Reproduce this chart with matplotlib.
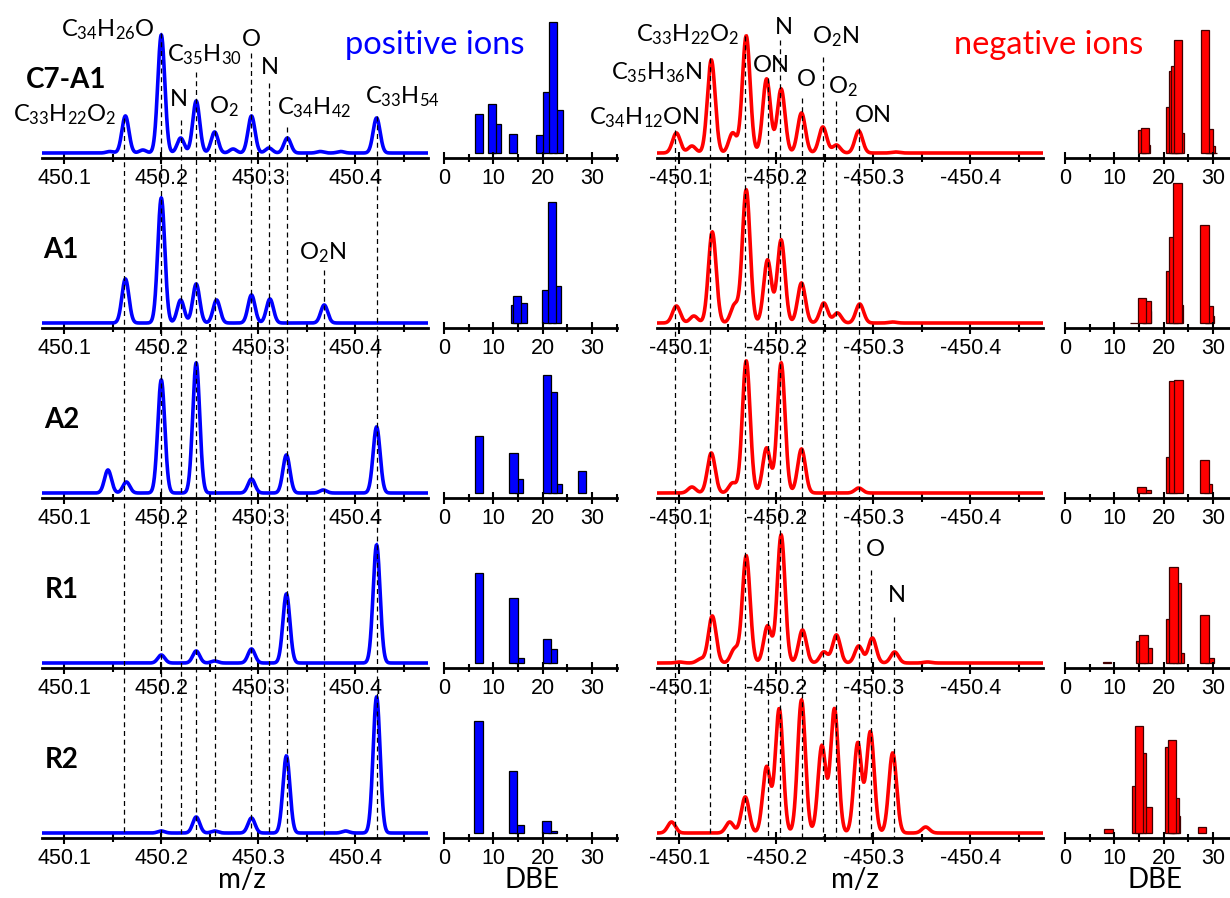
import matplotlib
matplotlib.use('Agg')
import matplotlib.pyplot as plt
import numpy as np
from matplotlib.lines import Line2D
from matplotlib.ticker import MultipleLocator, FuncFormatter
from matplotlib.transforms import blended_transform_factory

# Colours and fonts
BLUE = '#0000ff'
RED = '#ff0000'
LABEL_FONT = ['Lato', 'DejaVu Sans']
TICK_FONT = ['Liberation Sans', 'DejaVu Sans']

samples = ['C7-A1', 'A1', 'A2', 'R1', 'R2']

# ---- positive-ion peak lists (m/z, relative height) ----
pos_c7a1_mz = [450.147, 450.163, 450.181, 450.200, 450.220, 450.236, 450.255, 450.274,
               450.293, 450.311, 450.330, 450.364, 450.385, 450.422]
pos_c7a1_int = [1.5, 37, 3, 118, 15, 52, 21, 4, 37, 5, 15, 1.5, 1.5, 35]
pos_a1_mz = [450.163, 450.200, 450.220, 450.236, 450.257, 450.293, 450.312, 450.368]
pos_a1_int = [44, 125, 23, 39, 23, 28, 24, 18]
pos_a2_mz = [450.145, 450.164, 450.200, 450.236, 450.293, 450.329, 450.367, 450.422]
pos_a2_int = [23, 11, 113, 130, 14, 38, 3, 66]
pos_r1_mz = [450.200, 450.236, 450.255, 450.293, 450.329, 450.422]
pos_r1_int = [8, 12, 2, 14, 69, 118]
pos_r2_mz = [450.200, 450.236, 450.255, 450.293, 450.329, 450.390, 450.422]
pos_r2_int = [2, 16, 2, 15, 77, 2, 136]

# ---- negative-ion peak lists (m/z shown as -m/z on the axis) ----
neg_c7a1_mz = [450.097, 450.113, 450.133, 450.155, 450.169, 450.190, 450.205, 450.226,
               450.248, 450.262, 450.285, 450.323]
neg_c7a1_int = [20, 7, 93, 20, 117, 74, 64, 40, 26, 8, 22, 1]
neg_a1_mz = [450.097, 450.115, 450.134, 450.157, 450.169, 450.191, 450.205, 450.226,
             450.249, 450.263, 450.286, 450.320]
neg_a1_int = [17, 7, 91, 18, 133, 63, 83, 40, 20, 10, 19, 1]
neg_a2_mz = [450.113, 450.133, 450.155, 450.169, 450.190, 450.205, 450.226, 450.285]
neg_a2_int = [6, 40, 10, 132, 45, 130, 44, 5]
neg_r1_mz = [450.100, 450.122, 450.134, 450.157, 450.169, 450.191, 450.205, 450.227,
             450.249, 450.262, 450.285, 450.299, 450.322, 450.356]
neg_r1_int = [1, 4, 47, 14, 107, 37, 128, 33, 11, 28, 17, 25, 11, 1]
neg_r2_mz = [450.092, 450.152, 450.168, 450.190, 450.203, 450.226, 450.247, 450.260,
             450.284, 450.297, 450.320, 450.354]
neg_r2_int = [11, 11, 36, 66, 124, 133, 87, 124, 90, 101, 80, 6]

# ---- DBE distributions (DBE, relative abundance) ----
pos_c7a1_dbe = [7.1, 9.7, 10.8, 14.0, 19.6, 21.0, 22.1, 23.2]
pos_c7a1_ab = [39, 49, 29, 19, 18, 61, 131, 43]
pos_a1_dbe = [14.35, 14.85, 16.0, 20.8, 21.95, 22.9]
pos_a1_ab = [18, 27, 20, 33, 121, 37]
pos_a2_dbe = [7.05, 14.1, 15.25, 20.95, 22.05, 23.05, 27.95]
pos_a2_ab = [57, 40, 14, 118, 101, 9, 22]
pos_r1_dbe = [7.1, 14.1, 15.3, 20.9, 22.0]
pos_r1_ab = [90, 65, 5, 24, 14]
pos_r2_dbe = [7.0, 14.0, 15.3, 20.8, 22.0]
pos_r2_ab = [112, 62, 8, 12, 2]

neg_c7a1_dbe = [15.65, 16.25, 16.4, 21.3, 21.9, 22.3, 22.9, 23.25, 28.35, 29.25, 29.5, 30.0]
neg_c7a1_ab = [23, 25, 8, 46, 82, 87, 113, 20, 123, 24, 7, 0.5]
neg_a1_dbe = [14.0, 15.65, 16.7, 16.5, 21.35, 22.05, 22.8, 23.05, 28.3, 29.25, 29.3]
neg_a1_ab = [0.5, 25, 22, 12, 52, 86, 140, 18, 98, 17, 7]
neg_a2_dbe = [15.5, 16.5, 21.3, 21.9, 23.0, 28.3, 29.0]
neg_a2_ab = [6, 3, 36, 112, 113, 33, 9]
neg_r1_dbe = [8.5, 15.3, 15.9, 16.8, 21.3, 22.0, 22.7, 23.3, 28.3, 29.3]
neg_r1_ab = [1.5, 22, 28, 15, 44, 96, 80, 10, 48, 5]
neg_r2_dbe = [8.8, 14.35, 15.0, 15.65, 16.8, 21.2, 21.7, 22.25, 22.55, 27.8]
neg_r2_ab = [4, 47, 107, 80, 26, 86, 93, 35, 17, 6]

# ---- assignments marked with dashed lines ----
pos_formula = ['C$_{33}$H$_{22}$O$_2$', 'C$_{34}$H$_{26}$O', 'N', 'C$_{35}$H$_{30}$', 'O$_2$',
               'O', 'N', 'C$_{34}$H$_{42}$', 'C$_{33}$H$_{54}$', 'O$_2$N']
pos_formula_mz = [450.162, 450.200, 450.220, 450.236, 450.255, 450.293, 450.311,
                  450.330, 450.422, 450.368]
neg_formula = ['C$_{34}$H$_{12}$ON', 'C$_{35}$H$_{36}$N', 'C$_{33}$H$_{22}$O$_2$', 'ON', 'N',
               'O', 'O$_2$N', 'O$_2$', 'ON', 'O', 'N']
neg_formula_mz = [450.096, 450.132, 450.168, 450.191, 450.204, 450.227, 450.248,
                  450.262, 450.285, 450.298, 450.321]

# ---- layout (pixels of the 1230x898 canvas) ----
W, H = 1230, 898
XLIM = (450.077, 450.475)
ROW_BASE = [158, 328, 498, 668, 838]
AX_H = 150
COLS = [(42, 386), (444, 172.5), (657, 386), (1065, 172.5)]
# label centre (px) and top of dashed line (px)
pos_label_pos = [(64.5, 115, 118), (107.5, 30, 33), (178, 100, 120), (204, 55, 72),
                 (223.5, 107, 122), (251, 40, 53), (268.5, 68, 83), (314, 108, 127),
                 (402, 97, 116), (322.5, 253, 270)]
neg_label_pos = [(644, 118, 130), (656.5, 73, 58), (687.5, 35, 36), (770.5, 65, 78),
                 (782.5, 28, 40), (806, 80, 98), (836, 37, 57), (842.5, 87, 101),
                 (872.5, 115, 128), (875, 550, 570), (896, 595, 617)]


def fx(px):
    return px / W


def fy(py):
    return 1 - py / H


def profile(mz, inten, sigma):
    x = np.linspace(XLIM[0], XLIM[1], 3000)
    y = np.zeros_like(x)
    for m, h in zip(mz, inten):
        y += h * np.exp(-0.5 * ((x - m) / sigma) ** 2)
    return x, y


def style_axis(ax, major, minor, fmt):
    for side in ['top', 'left', 'right']:
        ax.spines[side].set_visible(False)
    ax.spines['bottom'].set_linewidth(2)
    ax.set_yticks([])
    ax.xaxis.set_major_locator(MultipleLocator(major))
    ax.xaxis.set_minor_locator(MultipleLocator(minor))
    ax.xaxis.set_major_formatter(FuncFormatter(fmt))
    ax.tick_params(axis='x', which='major', direction='inout', length=8, width=1.5, pad=3)
    ax.tick_params(axis='x', which='minor', direction='inout', length=6, width=1.5)
    for t in ax.get_xticklabels():
        t.set_family(TICK_FONT)
        t.set_fontsize(15.5)
    ax.set_ylim(-5, AX_H - 5)
    ax.patch.set_alpha(0)


fig = plt.figure(figsize=(W / 100, H / 100), dpi=100)

pos_mz = [pos_c7a1_mz, pos_a1_mz, pos_a2_mz, pos_r1_mz, pos_r2_mz]
pos_int = [pos_c7a1_int, pos_a1_int, pos_a2_int, pos_r1_int, pos_r2_int]
neg_mz = [neg_c7a1_mz, neg_a1_mz, neg_a2_mz, neg_r1_mz, neg_r2_mz]
neg_int = [neg_c7a1_int, neg_a1_int, neg_a2_int, neg_r1_int, neg_r2_int]
pos_dbe = [pos_c7a1_dbe, pos_a1_dbe, pos_a2_dbe, pos_r1_dbe, pos_r2_dbe]
pos_ab = [pos_c7a1_ab, pos_a1_ab, pos_a2_ab, pos_r1_ab, pos_r2_ab]
neg_dbe = [neg_c7a1_dbe, neg_a1_dbe, neg_a2_dbe, neg_r1_dbe, neg_r2_dbe]
neg_ab = [neg_c7a1_ab, neg_a1_ab, neg_a2_ab, neg_r1_ab, neg_r2_ab]

axes = []
for r, base in enumerate(ROW_BASE):
    row = []
    for c, (left, width) in enumerate(COLS):
        ax = fig.add_axes([fx(left), fy(base), fx(width), AX_H / H])
        row.append(ax)
    axes.append(row)

    # positive spectrum
    ax = row[0]
    x, y = profile(pos_mz[r], pos_int[r], 0.0036)
    ax.plot(x, y, color=BLUE, lw=2.6, solid_joinstyle='miter')
    ax.set_xlim(*XLIM)
    style_axis(ax, 0.1, 0.05, lambda v, p: f'{v:.1f}')
    ax.text(0.062 if r == 0 else 0.05, 0.52, samples[r], transform=ax.transAxes,
            ha='center', va='center', fontsize=20, fontweight='bold', family=LABEL_FONT)

    # positive DBE
    ax = row[1]
    order = np.argsort(pos_ab[r])
    ax.bar(np.array(pos_dbe[r])[order], np.array(pos_ab[r])[order], width=1.7,
           color=BLUE, edgecolor='black', linewidth=0.9)
    ax.set_xlim(0, 35)
    style_axis(ax, 10, 5, lambda v, p: f'{v:.0f}')

    # negative spectrum
    ax = row[2]
    x, y = profile(neg_mz[r], neg_int[r], 0.0040)
    ax.plot(x, y, color=RED, lw=2.6, solid_joinstyle='miter')
    ax.set_xlim(*XLIM)
    style_axis(ax, 0.1, 0.05, lambda v, p: f'-{v:.1f}')

    # negative DBE
    ax = row[3]
    order = np.argsort(neg_ab[r])
    ax.bar(np.array(neg_dbe[r])[order], np.array(neg_ab[r])[order], width=1.7,
           color=RED, edgecolor='#400000', linewidth=0.9)
    ax.set_xlim(0, 35)
    style_axis(ax, 10, 5, lambda v, p: f'{v:.0f}')

# assignment labels and dashed guide lines
for labels, mzs, placement, col in [(pos_formula, pos_formula_mz, pos_label_pos, 0),
                                    (neg_formula, neg_formula_mz, neg_label_pos, 2)]:
    trans = blended_transform_factory(axes[4][col].transData, fig.transFigure)
    for text, mz, (lx, ly, top) in zip(labels, mzs, placement):
        fig.text(fx(lx), fy(ly), r'$\mathregular{' + text.replace('$', '') + '}$',
                 ha='center', va='center', fontsize=17, family=LABEL_FONT)
        fig.add_artist(Line2D([mz, mz], [fy(top), fy(ROW_BASE[-1])], transform=trans,
                              color='black', lw=0.9, linestyle=(0, (4, 3))))

fig.text(fx(435), fy(45), 'positive ions', color=BLUE, fontsize=23.5, family=LABEL_FONT,
         ha='center', va='center')
fig.text(fx(1049), fy(45), 'negative ions', color=RED, fontsize=23.5, family=LABEL_FONT,
         ha='center', va='center')
for xc, text in [(242, 'm/z'), (532, 'DBE'), (855, 'm/z'), (1155, 'DBE')]:
    fig.text(fx(xc), fy(880), text, fontsize=20, family=LABEL_FONT, ha='center', va='center')

fig.savefig('out.png', dpi=100)
